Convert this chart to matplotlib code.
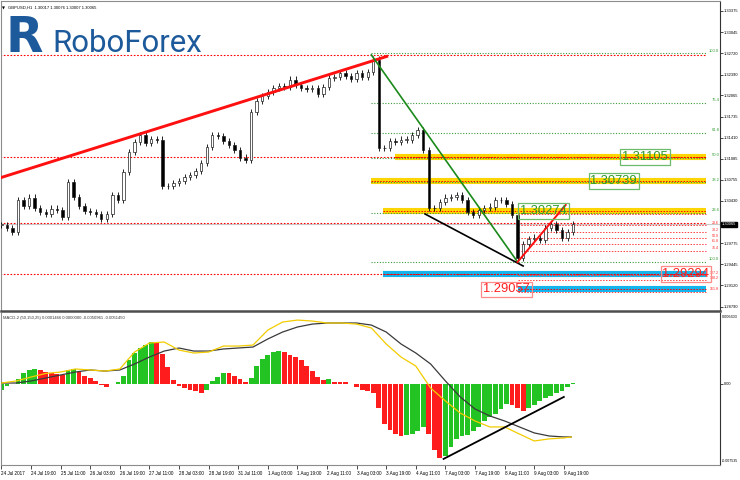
import matplotlib
matplotlib.use("Agg")
import matplotlib.pyplot as plt
import matplotlib.transforms as mtransforms

W, H = 740, 480

# GBPUSD H1, one close every 3rd hourly bar, bar 0 = 24 Jul 2017 03:00
BAR_STEP = 3
closes = [
    1.3006, 1.3001, 1.2995, 1.3044, 1.3035, 1.3048, 1.3032, 1.3026, 1.3023, 1.3031,
    1.3029, 1.3018, 1.3072, 1.3049, 1.3035, 1.3027, 1.3026, 1.3023, 1.3015, 1.3023,
    1.3052, 1.3044, 1.3088, 1.3119, 1.3134, 1.3145, 1.3133, 1.3139, 1.3138, 1.3066,
    1.3066, 1.3071, 1.3074, 1.3080, 1.3083, 1.3089, 1.3102, 1.3127, 1.3145, 1.3144,
    1.3136, 1.3130, 1.3122, 1.3110, 1.3107, 1.3181, 1.3198, 1.3206, 1.3212, 1.3218,
    1.3221, 1.3220, 1.3231, 1.3223, 1.3218, 1.3217, 1.3218, 1.3209, 1.3220, 1.3234,
    1.3235, 1.3241, 1.3237, 1.3232, 1.3241, 1.3235, 1.3243, 1.3262, 1.3125, 1.3125,
    1.3136, 1.3134, 1.3138, 1.3138, 1.3145, 1.3153, 1.3122, 1.3032, 1.3032, 1.3041,
    1.3048, 1.3049, 1.3052, 1.3044, 1.3026, 1.3021, 1.3029, 1.3032, 1.3034, 1.3044,
    1.3044, 1.3038, 1.3021, 1.2955, 1.2976, 1.2984, 1.2986, 1.2982, 1.3001, 1.3007,
    1.2998, 1.2986, 1.2995, 1.30065,
]
WICK = 0.0005

# MACD-2 histogram on the same bars as closes
macd_hist = [
    -0.00055, -0.00018, 0.0, 0.00046, 0.00101, 0.00129, 0.00138, 0.00129, 0.00110, 0.00101,
    0.00092, 0.00083, 0.00129, 0.00138, 0.00110, 0.00074, 0.00055, 0.00028, -0.00009, -0.00028,
    0.0, 0.00018, 0.00074, 0.00221, 0.00285, 0.00331, 0.00359, 0.00386, 0.00377, 0.00276,
    0.00156, 0.00037, -0.00018, -0.00037, -0.00055, -0.00064, -0.00083, -0.00055, 0.00028, 0.00064,
    0.00105, 0.00101, 0.00074, 0.00046, 0.00018, 0.00055, 0.00166, 0.00230, 0.00267, 0.00294,
    0.00303, 0.00294, 0.00267, 0.00248, 0.00221, 0.00166, 0.00120, 0.00064, 0.00037, 0.00046,
    0.00018, 0.00017, 0.00014, 0.0, -0.00028, -0.00055, -0.00064, -0.00083, -0.00221, -0.00368,
    -0.00423, -0.00460, -0.00478, -0.00469, -0.00460, -0.00432, -0.00395, -0.00460, -0.00607, -0.00680,
    -0.00662, -0.00579, -0.00506, -0.00478, -0.00469, -0.00432, -0.00395, -0.00340, -0.00303, -0.00276,
    -0.00230, -0.00184, -0.00193, -0.00221, -0.00248, -0.00221, -0.00193, -0.00156, -0.00129, -0.00110,
    -0.00083, -0.00064, -0.00028, 0.00009,
]

# MACD lines, read every 8 bars
line_bars = list(range(0, 305, 8)) + [308]
macd_yellow = [
    0.00009, 0.00028, 0.00064, 0.00097, 0.00110, 0.00138, 0.00129, 0.00119, 0.00138, 0.00294,
    0.00377, 0.00386, 0.00312, 0.00285, 0.00294, 0.00349, 0.00349, 0.00358, 0.00496, 0.00570,
    0.00588, 0.00579, 0.00561, 0.00561, 0.00551, 0.00515, 0.00368, 0.00248, 0.00165, -0.00037,
    -0.00156, -0.00267, -0.00340, -0.00395, -0.00395, -0.00460, -0.00524, -0.00505, -0.00496, -0.00487,
]
macd_black = [
    0.00009, 0.00009, 0.00028, 0.00055, 0.00083, 0.00110, 0.00129, 0.00119, 0.00129, 0.00184,
    0.00248, 0.00303, 0.00331, 0.00303, 0.00303, 0.00322, 0.00331, 0.00340, 0.00414, 0.00478,
    0.00524, 0.00551, 0.00561, 0.00561, 0.00561, 0.00542, 0.00478, 0.00368, 0.00285, 0.00184,
    0.00028, -0.00119, -0.00230, -0.00294, -0.00340, -0.00395, -0.00450, -0.00478, -0.00487, -0.00487,
]

time_labels = [
    "24 Jul 2017", "24 Jul 19:00", "25 Jul 11:00", "26 Jul 03:00", "26 Jul 19:00",
    "27 Jul 11:00", "28 Jul 03:00", "28 Jul 19:00", "31 Jul 11:00", "1 Aug 03:00",
    "1 Aug 19:00", "2 Aug 11:00", "3 Aug 03:00", "3 Aug 19:00", "4 Aug 11:00",
    "7 Aug 03:00", "7 Aug 19:00", "8 Aug 11:00", "9 Aug 03:00", "9 Aug 19:00",
]
price_ticks = [1.33375, 1.33045, 1.32720, 1.32390, 1.32065, 1.31735, 1.31410,
               1.31085, 1.30755, 1.30430, 1.29775, 1.29445, 1.29120, 1.28790]
last_price = 1.30065
header = "GBPUSD,H1  1.30017 1.30076 1.30007 1.30065"
macd_header = "MACD-2 (50,150,25) 0.0001466 0.0000000 -0.0050961 -0.0051450"

# horizontal levels
red_levels = [1.32700, 1.31105, 1.30080, 1.29294]
yellow_levels = [1.31105, 1.30739, 1.30274]
yellow_start = [213, 200, 206]
blue_levels = [1.29294, 1.29057]
blue_start = [206, 279]
level_end = 381

fib_high, fib_low, fib_start = 1.32720, 1.29483, 200
fib_ratios = [100.0, 76.4, 61.8, 50.0, 38.2, 23.6, 0.0]
fib_names = ["100.0", "76.4", "61.8", "50.0", "38.2", "23.6", "100.0"]
small_high, small_low, small_start = 1.30227, 1.29483, 279
small_ratios = [0.0, 23.6, 38.2, 50.0, 61.8, 76.4, 127.2, 138.2, 161.8]

# trend lines as (bars, prices)
red_trend = ([-1, 209], [1.30785, 1.32677])
green_trend = ([200, 279], [1.32693, 1.29483])
black_trend = ([229, 282], [1.30227, 1.29421])
red_up = ([279, 305], [1.29483, 1.30367])
macd_trend = ([239, 304], [-0.00689, -0.00119])

boxes = [
    ("1.31105", 348, 1.31105, "g"),
    ("1.30739", 331, 1.30739, "g"),
    ("1.30274", 293, 1.30274, "g"),
    ("1.29294", 370, 1.29294, "r"),
    ("1.29057", 273, 1.29057, "r"),
]

GREEN_TXT, GREEN_EDGE = "#2f9a2f", "#6cba6c"
RED_TXT, RED_EDGE = "#ff2020", "#ff8a8a"
LOGO = "#1d5a9b"
SMALL = ["Liberation Sans", "DejaVu Sans"]


def fx(px):
    return px / W


def fy(py):
    return (H - py) / H


fig = plt.figure(figsize=(W / 100, H / 100), dpi=100)
ax = fig.add_axes([fx(1), fy(311), 719 / W, 310 / H])
am = fig.add_axes([fx(1), fy(465), 719 / W, 152 / H], sharex=ax)
ax.set_xlim(-0.2, 388.4)
ax.set_ylim(1.28723, 1.33530)
am.set_ylim(-0.00745, 0.00653)

# ---- main panel ----
for lvl in red_levels:
    ax.hlines(lvl, -1, level_end, color="#ff0000", lw=0.8, ls=(0, (1.5, 1.5)), zorder=2)
ax.axhline(last_price, color="#c8c8c8", lw=0.8, zorder=1)

for lvl, s in zip(yellow_levels, yellow_start):
    ax.hlines(lvl, s, level_end, color="#ffd500", lw=4.4, zorder=1)
    ax.hlines(lvl, s, level_end, color="#ff0000", lw=0.7, ls=(0, (1.5, 1.5)), zorder=2)
for lvl, s in zip(blue_levels, blue_start):
    ax.hlines(lvl, s, level_end, color="#14b4ec", lw=4.4, zorder=1)
    ax.hlines(lvl, s, level_end, color="#ff0000", lw=0.7, ls=(0, (1.5, 1.5)), zorder=2)

for r, name in zip(fib_ratios, fib_names):
    lvl = fib_low + r / 100 * (fib_high - fib_low)
    ax.hlines(lvl, fib_start, level_end, color="#3c9a3c", lw=0.8, ls=(0, (1, 1.5)), zorder=2)
    ax.text(388, lvl + 0.00008, name, color=GREEN_TXT, fontsize=3.0, family=SMALL,
            ha="right", va="bottom", zorder=5)
for r in small_ratios:
    lvl = small_high - r / 100 * (small_high - small_low)
    ax.hlines(lvl, small_start, level_end, color="#ff4040", lw=0.7, ls=(0, (1.5, 1.5)), zorder=2)
    if r > 0:
        ax.text(388, lvl + 0.00003, f"{r:.1f}", color=RED_TXT, fontsize=2.6, family=SMALL,
                ha="right", va="bottom", zorder=5)

# candles
xs = [i * BAR_STEP for i in range(len(closes))]
opens = [closes[0]] + closes[:-1]
for x, o, c in zip(xs, opens, closes):
    ax.vlines(x, min(o, c) - WICK, max(o, c) + WICK, color="black", lw=0.6, zorder=3)
    up = c >= o
    ax.bar(x, max(abs(c - o), 0.00006), bottom=min(o, c), width=1.3,
           color="white" if up else "black", edgecolor="#202020", lw=0.5, zorder=3)

ax.plot(*red_trend, color="#ff1010", lw=2.1, zorder=4, solid_capstyle="butt")
ax.plot(*green_trend, color="#1a8a1a", lw=1.2, zorder=4)
ax.plot(*black_trend, color="black", lw=1.2, zorder=4)
ax.plot(*red_up, color="#ff1010", lw=1.4, zorder=4)

for txt, bx, by, kind in boxes:
    col, edge = (GREEN_TXT, GREEN_EDGE) if kind == "g" else (RED_TXT, RED_EDGE)
    ax.text(bx, by, txt, color=col, fontsize=9.3, family=SMALL, ha="center", va="center",
            zorder=6, bbox=dict(boxstyle="square,pad=0.15", fc="none", ec=edge, lw=0.9))

# ---- MACD panel ----
colors = []
prev = None
for v in macd_hist:
    colors.append("#22c322" if prev is None or v >= prev else "#ff1c1c")
    prev = v
am.bar(xs, macd_hist, width=2.6, color=colors, lw=0, zorder=2)
am.plot(line_bars, macd_black, color="#3a3a3a", lw=0.9, zorder=3)
am.plot(line_bars, macd_yellow, color="#f2cc00", lw=0.9, zorder=3)
am.plot(*macd_trend, color="black", lw=1.3, zorder=4)

# ---- axes styling ----
for a in (ax, am):
    a.yaxis.tick_right()
    a.spines["left"].set_color("#8c8c8c")
    a.spines["left"].set_linewidth(0.8)
    a.spines["right"].set_color("#333333")
    a.spines["right"].set_linewidth(0.8)
    a.spines["top"].set_color("#8c8c8c")
    a.spines["top"].set_linewidth(0.8)
    a.tick_params(axis="y", length=2, width=0.5, pad=0.5, labelsize=2.9, colors="black")
ax.spines["bottom"].set_color("#4d4d4d")
ax.spines["bottom"].set_linewidth(1.8)
am.spines["top"].set_visible(False)
am.spines["bottom"].set_color("#8c8c8c")
am.spines["bottom"].set_linewidth(0.8)

ax.set_yticks(price_ticks)
ax.set_yticklabels([f"{p:.5f}" for p in price_ticks], family=SMALL)
ax.tick_params(axis="x", length=0, labelbottom=False)

am.set_yticks([0.0])
am.set_yticklabels(["0.00"], family=SMALL)
am.set_xticks([16 * i for i in range(len(time_labels))])
am.set_xticklabels(time_labels, ha="left", family=SMALL)
am.tick_params(axis="x", length=3, width=0.5, pad=1.5, labelsize=3.3)

right = mtransforms.blended_transform_factory(ax.transAxes, ax.transData)
ax.text(1.003, last_price, f"{last_price:.5f}", transform=right, color="white",
        fontsize=2.9, family=SMALL, ha="left", va="center", zorder=7,
        bbox=dict(boxstyle="square,pad=0.2", fc="black", ec="black"))
am.text(1.002, 0.99, "0.006603", transform=am.transAxes, fontsize=2.7, family=SMALL,
        ha="left", va="top")
am.text(1.002, 0.01, "-0.007535", transform=am.transAxes, fontsize=2.6, family=SMALL,
        ha="left", va="bottom")

# ---- texts on top ----
fig.text(fx(2), fy(9), "\u25bc", fontsize=2.8, color="black", va="baseline")
fig.text(fx(8), fy(9), header, fontsize=3.0, family=SMALL, va="baseline")
fig.text(fx(3), fy(319), macd_header, fontsize=3.0, family=SMALL, color="#333333", va="baseline")
fig.text(fx(6), fy(52), "R", fontsize=35, fontweight="bold", family="DejaVu Sans",
         color=LOGO, va="baseline")
fig.text(fx(52), fy(52), "RoboForex", fontsize=22.5, family="Roboto", color=LOGO, va="baseline")

fig.savefig("out.png", dpi=100)
